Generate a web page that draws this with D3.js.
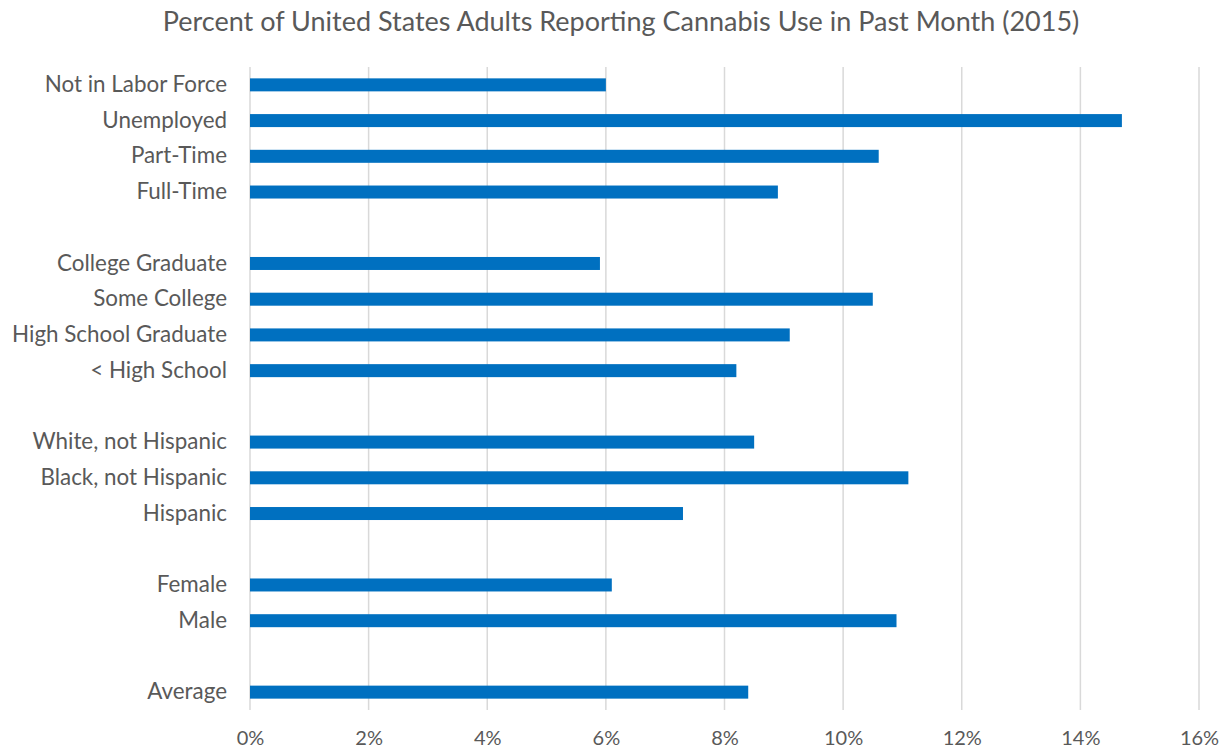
<!DOCTYPE html>
<html>
<head>
<meta charset="utf-8">
<script src="https://cdn.jsdelivr.net/npm/d3@7"></script>
<style>
  html, body { margin: 0; padding: 0; background: #fff; }
  svg { display: block; font-family: Lato, "Open Sans", sans-serif; }
</style>
</head>
<body>
<svg id="chart" width="1228" height="753"></svg>
<script>
// Survey groups, top to bottom; an empty string marks a spacer row between groups
const categories = [
  "Not in Labor Force", "Unemployed", "Part-Time", "Full-Time", "",
  "College Graduate", "Some College", "High School Graduate", "< High School", "",
  "White, not Hispanic", "Black, not Hispanic", "Hispanic", "",
  "Female", "Male", "",
  "Average"
];
// Percent reporting use in the past month
const values = [
  6.0, 14.7, 10.6, 8.9, null,
  5.9, 10.5, 9.1, 8.2, null,
  8.5, 11.1, 7.3, null,
  6.1, 10.9, null,
  8.4
];
const tickValues = [0, 2, 4, 6, 8, 10, 12, 14, 16];
const title = "Percent of United States Adults Reporting Cannabis Use in Past Month (2015)";

const svg = d3.select("#chart");
const margin = { top: 67, right: 29, bottom: 43, left: 250 };
const W = 1228, H = 753;
const innerW = W - margin.left - margin.right;
const innerH = H - margin.top - margin.bottom;

const rows = categories.map((c, i) => ({ key: "r" + i, label: c, value: values[i] }));

const x = d3.scaleLinear().domain([0, 16]).range([0, innerW]);
const y = d3.scaleBand().domain(rows.map(d => d.key)).range([0, innerH]).paddingInner(0.64).paddingOuter(0.32);

const g = svg.append("g").attr("transform", `translate(${margin.left},${margin.top})`);

// Vertical gridlines
g.append("g")
  .selectAll("line")
  .data(tickValues)
  .join("line")
  .attr("x1", d => x(d)).attr("x2", d => x(d))
  .attr("y1", 0).attr("y2", innerH)
  .attr("stroke", "#d9d9d9")
  .attr("stroke-width", 1.5);

// Bars
g.append("g")
  .selectAll("rect")
  .data(rows.filter(d => d.value != null))
  .join("rect")
  .attr("x", x(0))
  .attr("y", d => y(d.key) + y.bandwidth() / 2 - 6.5)
  .attr("width", d => x(d.value) - x(0))
  .attr("height", 13)
  .attr("fill", "#0070c0");

// Category labels
const yAxis = d3.axisLeft(y)
  .tickSize(0)
  .tickPadding(23)
  .tickFormat(k => rows.find(r => r.key === k).label);
g.append("g")
  .call(yAxis)
  .call(s => s.select(".domain").remove())
  .call(s => s.selectAll("text")
    .attr("fill", "#595959")
    .style("font-size", "22.4px")
    .style("font-family", "Lato, 'Open Sans', sans-serif"));

// Percent axis
const xAxis = d3.axisBottom(x)
  .tickValues(tickValues)
  .tickSize(0)
  .tickPadding(21)
  .tickFormat(d => d + "%");
g.append("g")
  .attr("transform", `translate(0,${innerH})`)
  .call(xAxis)
  .call(s => s.select(".domain").remove())
  .call(s => s.selectAll("text")
    .attr("fill", "#595959")
    .style("font-size", "20px")
    .style("font-family", "Lato, 'Open Sans', sans-serif"));

// Title
svg.append("text")
  .attr("x", 621)
  .attr("y", 31)
  .attr("text-anchor", "middle")
  .attr("fill", "#595959")
  .style("font-size", "27px")
  .text(title);
</script>
</body>
</html>
